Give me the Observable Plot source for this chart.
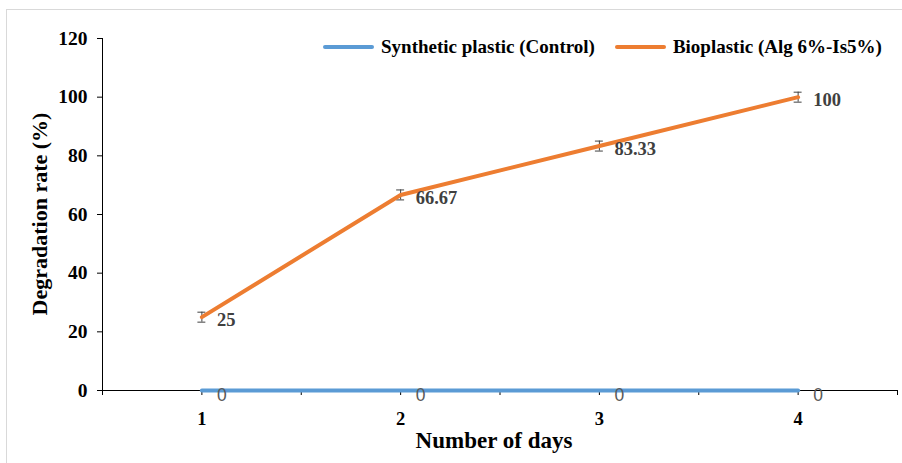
<!DOCTYPE html>
<html><head><meta charset="utf-8">
<script src="https://cdn.jsdelivr.net/npm/d3@7"></script>
<script src="https://cdn.jsdelivr.net/npm/@observablehq/plot@0.6"></script>
<style>
body{margin:0;background:#fff}
#wrap{position:relative;width:902px;height:463px;overflow:hidden;font-family:"Liberation Serif",serif}
.frame{position:absolute;left:6px;top:9px;width:910px;height:470px;border:1px solid #d9d9d9;box-sizing:border-box}
#chart{position:absolute;left:0;top:0}
.legend{position:absolute;top:47px;left:323px;transform:translateY(-50%);display:flex;align-items:center;font-weight:bold;font-size:19px;color:#000;white-space:nowrap}
.legend .sw{display:inline-block;width:51px;height:4px;border-radius:2px;margin-right:7px}
.legend .item{display:flex;align-items:center;margin-right:20px}
.ytitle{position:absolute;left:40px;top:214px;transform:translate(-50%,-50%) rotate(-90deg);font-weight:bold;font-size:22px;white-space:nowrap}
.xtitle{position:absolute;left:494px;top:441px;transform:translate(-50%,-50%);font-weight:bold;font-size:23px;white-space:nowrap}
</style>
</head><body>
<div id="wrap">
<div class="frame"></div>
<div id="chart"></div>
<div class="legend" id="legend"></div>
<div class="ytitle" id="ytitle"></div>
<div class="xtitle" id="xtitle"></div>
</div>
<script>
const days = [1, 2, 3, 4];
const synthetic = [0, 0, 0, 0];
const bioplastic = [25, 66.67, 83.33, 100];
const bioError = [1.7, 1.7, 1.7, 1.7];
const seriesNames = ["Synthetic plastic (Control)", "Bioplastic (Alg 6%-Is5%)"];
const seriesColors = ["#5B9BD5", "#ED7D31"];
const yTicks = [0, 20, 40, 60, 80, 100, 120];
const xTicks = [0.5, 1, 1.5, 2, 2.5, 3, 3.5, 4, 4.5];
const xTitle = "Number of days";
const yTitle = "Degradation rate (%)";

const synData = days.map((d, i) => ({x: d, y: synthetic[i]}));
const bioData = days.map((d, i) => ({x: d, y: bioplastic[i], e: bioError[i]}));

const chart = Plot.plot({
  width: 902, height: 463,
  marginLeft: 102, marginRight: 5, marginTop: 38, marginBottom: 73,
  x: {domain: [0.5, 4.5]},
  y: {domain: [0, 120]},
  style: {fontFamily: "Liberation Serif", background: "transparent"},
  marks: [
    Plot.axisY({ticks: yTicks, tickSize: 5, tickPadding: 10, fontWeight: "bold", fontSize: 19.5, label: null, stroke: "black", fill: "black"}),
    Plot.axisX({ticks: xTicks, tickSize: 5, tickPadding: 16, fontWeight: "bold", fontSize: 18.5, label: null,
      tickFormat: d => Number.isInteger(d) ? String(d) : "", fill: "black"}),
    Plot.ruleX([0.5], {stroke: "black", strokeWidth: 1}),
    Plot.ruleY([0], {stroke: "black", strokeWidth: 1}),
    Plot.ruleX(bioData, {x: "x", y1: d => d.y - d.e, y2: d => d.y + d.e, stroke: "#404040", strokeWidth: 1}),
    Plot.ruleY(bioData, {y: d => d.y - d.e, x1: d => d.x - 0.02, x2: d => d.x + 0.02, stroke: "#404040", strokeWidth: 1}),
    Plot.ruleY(bioData, {y: d => d.y + d.e, x1: d => d.x - 0.02, x2: d => d.x + 0.02, stroke: "#404040", strokeWidth: 1}),
    Plot.line(synData, {x: "x", y: "y", stroke: seriesColors[0], strokeWidth: 4, strokeLinecap: "round"}),
    Plot.line(bioData, {x: "x", y: "y", stroke: seriesColors[1], strokeWidth: 4, strokeLinecap: "round", strokeLinejoin: "round"}),
    Plot.text(bioData, {x: "x", y: "y", text: d => String(d.y), dx: 15, dy: 3, textAnchor: "start",
      fontWeight: "bold", fontSize: 18.5, fill: "#404040"}),
    Plot.text(synData, {x: "x", y: "y", text: d => String(d.y), dx: 15, dy: 5, textAnchor: "start",
      fontFamily: "Liberation Sans", fontSize: 17.5, fill: "#595959"})
  ]
});
document.getElementById("chart").appendChild(chart);

const legend = document.getElementById("legend");
seriesNames.forEach((n, i) => {
  const it = document.createElement("div");
  it.className = "item";
  const sw = document.createElement("span");
  sw.className = "sw";
  sw.style.background = seriesColors[i];
  it.appendChild(sw);
  it.appendChild(document.createTextNode(n));
  legend.appendChild(it);
});
document.getElementById("xtitle").textContent = xTitle;
document.getElementById("ytitle").textContent = yTitle;
</script>
</body></html>
